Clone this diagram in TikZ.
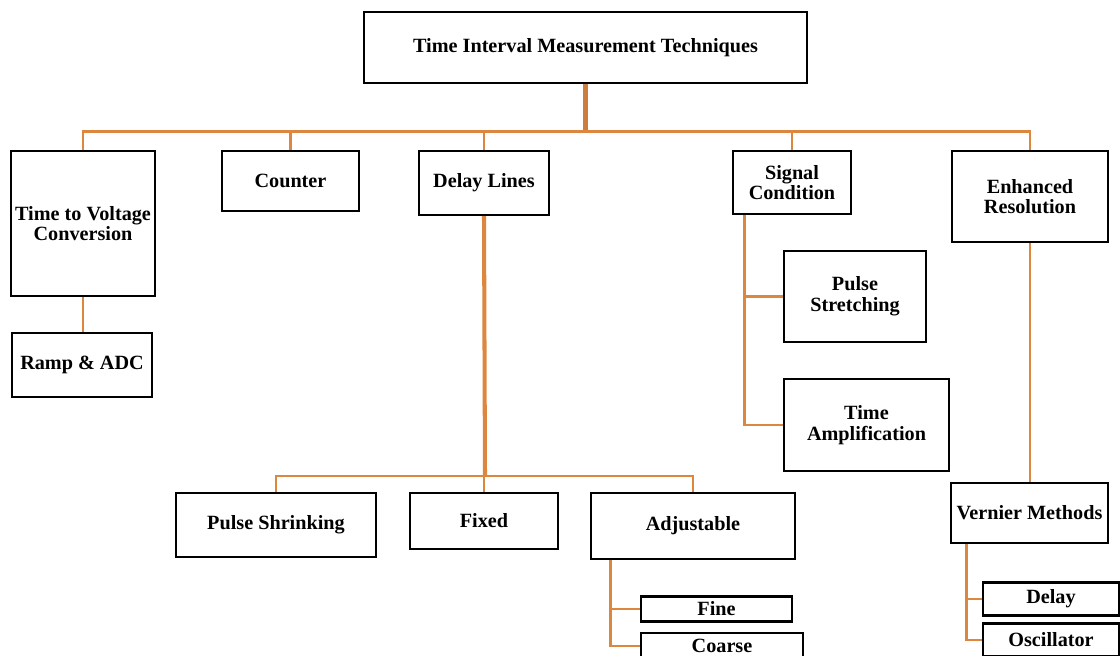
\documentclass[tikz,border=0pt]{standalone}
\usepackage{fontspec}
\setmainfont{Liberation Serif}
\usepackage{xcolor}
\usepackage{tikz}

\definecolor{lncol}{RGB}{221,134,62}
\definecolor{trcol}{RGB}{205,125,60}

\begin{document}
\begin{tikzpicture}[
    x=0.02cm,y=-0.02cm,
    box/.style={
      draw,line width=1.4pt,align=center,inner sep=0pt,
      font=\bfseries\fontsize{11.5}{11.8}\selectfont},
    link/.style={draw=lncol,line width=1.6pt},
    trunk/.style={draw=trcol,line width=2.8pt}
]
\useasboundingbox (0,0) rectangle (1120,656);

\node[box,minimum width=8.86cm,minimum height=1.42cm] (top)  at (585.5,47.5) {Time Interval Measurement Techniques};
\node[box,minimum width=2.88cm,minimum height=2.90cm] (tvc)  at (83,223.5)   {Time to Voltage\\Conversion};
\node[box,minimum width=2.74cm,minimum height=1.20cm] (cnt)  at (290.5,181)  {Counter};
\node[box,minimum width=2.60cm,minimum height=1.28cm] (dly)  at (484,183)    {Delay Lines};
\node[box,minimum width=2.36cm,minimum height=1.26cm] (sig)  at (792,182.5)  {Signal\\Condition};
\node[box,minimum width=3.12cm,minimum height=1.82cm] (enh)  at (1030,196.5) {Enhanced\\Resolution};

\node[box,minimum width=2.80cm,minimum height=1.28cm] (ramp) at (82,365)     {Ramp \& ADC};
\node[box,minimum width=2.84cm,minimum height=1.82cm] (pst)  at (855,296.5)  {Pulse\\Stretching};
\node[box,minimum width=3.30cm,minimum height=1.84cm] (tam)  at (866.5,425)  {Time\\Amplification};

\node[box,minimum width=4.00cm,minimum height=1.28cm] (psh)  at (276,525)    {Pulse Shrinking};
\node[box,minimum width=2.96cm,minimum height=1.12cm] (fix)  at (484,521)    {Fixed};
\node[box,minimum width=4.08cm,minimum height=1.32cm] (adj)  at (693,526)    {Adjustable};
\node[box,minimum width=3.02cm,minimum height=0.50cm] (fine) at (716.5,609)  {Fine};
\node[box,minimum width=3.24cm,minimum height=0.52cm] (crs)  at (722,646)    {Coarse};

\node[box,minimum width=3.14cm,minimum height=1.20cm] (ver)  at (1029.5,513) {Vernier Methods};
\node[box,minimum width=2.72cm,minimum height=0.66cm] (vdl)  at (1051,599)   {Delay};
\node[box,minimum width=2.72cm,minimum height=0.66cm] (osc)  at (1051,640)   {Oscillator};

% main bus
\coordinate (hub)  at (585.5,133);
\coordinate (dhub) at (485,476);
\draw[trunk] (top.south) -- (hub);
\draw[link] (tvc.north) -- ++(0,-18) -| (enh.north);
\draw[link] (cnt.north) -- (cnt.north |- hub);
\draw[link] (dly.north) -- (dly.north |- hub);
\draw[link] (sig.north) -- (sig.north |- hub);

% time to voltage
\draw[link] (tvc.south) -- (tvc.south |- ramp.north);

% delay lines
\draw[link,line width=2.3pt] (dly.south) -- (dhub);
\draw[link] (psh.north) |- (dhub) -| (adj.north);
\draw[link] (fix.north) -- (fix.north |- dhub);
\draw[link] ([xshift=0.42cm]adj.south west) |- (crs.west);
\draw[link] (fine.west) -| ([xshift=0.42cm]adj.south west);

% signal condition
\draw[link] ([xshift=0.26cm]sig.south west) |- (tam.west);
\draw[link] (pst.west) -| ([xshift=0.26cm]sig.south west);

% enhanced resolution
\draw[link] (enh.south) -- (enh.south |- ver.north);
\draw[link] ([xshift=0.34cm]ver.south west) |- (osc.west);
\draw[link] (vdl.west) -| ([xshift=0.34cm]ver.south west);
\end{tikzpicture}
\end{document}
